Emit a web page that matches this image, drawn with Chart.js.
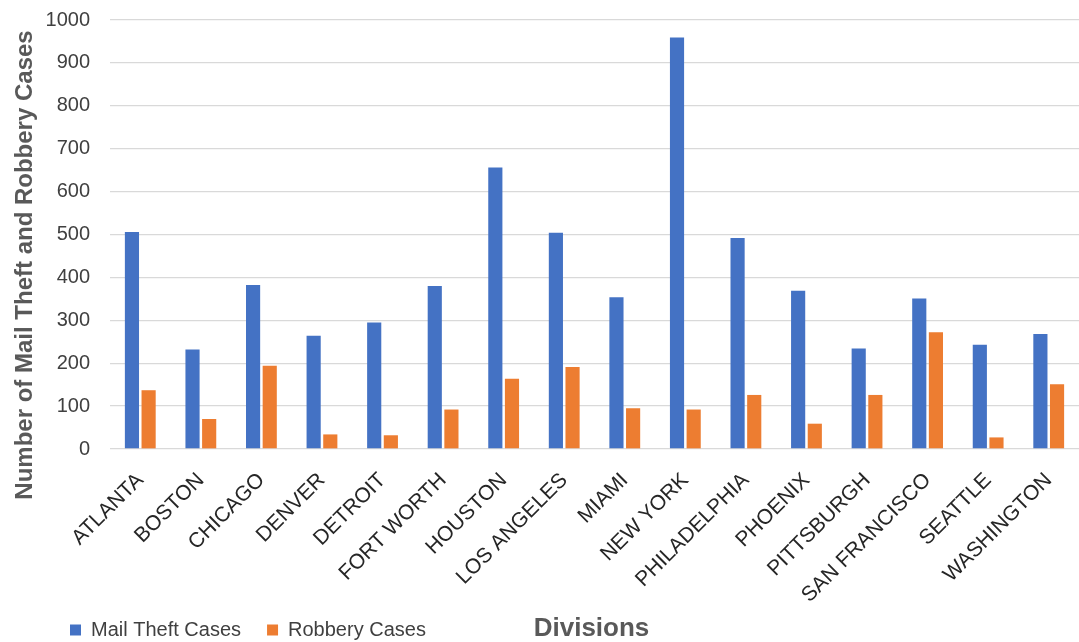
<!DOCTYPE html>
<html>
<head>
<meta charset="utf-8">
<script src="https://cdn.jsdelivr.net/npm/chart.js@4"></script>
<style>
    body { margin: 0; background: #fff; }
    #chart { display: block; }
</style>
</head>
<body>
<canvas id="chart" width="1079" height="642"></canvas>
<script>
// Divisions on the x axis
const divisions = ['ATLANTA', 'BOSTON', 'CHICAGO', 'DENVER', 'DETROIT', 'FORT WORTH', 'HOUSTON',
    'LOS ANGELES', 'MIAMI', 'NEW YORK', 'PHILADELPHIA', 'PHOENIX', 'PITTSBURGH',
    'SAN FRANCISCO', 'SEATTLE', 'WASHINGTON'];

// Case counts
const mailTheftCases = [506, 232, 382, 264, 295, 380, 656, 504, 354, 959, 492, 369, 234, 351, 243, 268];
const robberyCases = [137, 70, 194, 34, 32, 92, 164, 191, 95, 92, 126, 59, 126, 272, 27, 151];

// y axis range
const yMin = 0;
const yMax = 1000;
const yStep = 100;

const yTitle = 'Number of Mail Theft and Robbery Cases';
const xTitle = 'Divisions';

const FONT = '"Liberation Sans", Arial, sans-serif';

// Draws both axis titles (the x title sits on the legend row, like the original)
const axisTitles = {
    id: 'axisTitles',
    afterLayout(chart) {
        // put the legend row where the original has it
        const shift = 594 - chart.legend.top;
        chart.legend.top += shift;
        chart.legend.bottom += shift;
    },
    afterDraw(chart) {
        const ctx = chart.ctx;
        const x = chart.scales.x;
        ctx.save();
        ctx.fillStyle = '#595959';
        ctx.textAlign = 'center';
        ctx.textBaseline = 'middle';

        ctx.font = 'bold 24px ' + FONT;
        ctx.translate(25, 265);
        ctx.rotate(-Math.PI / 2);
        ctx.fillText(yTitle, 0, 0);
        ctx.restore();

        ctx.save();
        ctx.fillStyle = '#595959';
        ctx.textAlign = 'center';
        ctx.textBaseline = 'middle';
        ctx.font = 'bold 26px ' + FONT;
        ctx.fillText(xTitle, (x.left + x.right) / 2 - 3, 629);
        ctx.restore();
    }
};

const ctx = document.getElementById('chart').getContext('2d');
new Chart(ctx, {
    type: 'bar',
    data: {
        labels: divisions,
        datasets: [
            {
                label: 'Mail Theft Cases',
                data: mailTheftCases,
                backgroundColor: '#4472C4',
                categoryPercentage: 0.55,
                barPercentage: 0.85
            },
            {
                label: 'Robbery Cases',
                data: robberyCases,
                backgroundColor: '#ED7D31',
                categoryPercentage: 0.55,
                barPercentage: 0.85
            }
        ]
    },
    options: {
        responsive: false,
        animation: false,
        devicePixelRatio: 1,
        layout: {
            padding: { left: 44, right: 0, top: 20, bottom: -15 }
        },
        plugins: {
            legend: {
                position: 'bottom',
                align: 'start',
                labels: {
                    boxWidth: 11,
                    boxHeight: 11,
                    padding: 26,
                    color: '#404040',
                    font: { family: FONT, size: 20 }
                }
            },
            tooltip: { enabled: false }
        },
        scales: {
            x: {
                grid: { display: false, drawTicks: false },
                border: { display: false },
                ticks: {
                    color: '#262626',
                    font: { family: FONT, size: 21 },
                    minRotation: 45,
                    maxRotation: 45,
                    autoSkip: false,
                    padding: 19
                },
                afterFit(scale) {
                    scale.height = 152;
                    scale.paddingLeft = 0;
                    scale.paddingRight = 0;
                }
            },
            y: {
                min: yMin,
                max: yMax,
                grid: { color: '#d9d9d9', lineWidth: 1.3, drawTicks: false },
                border: { display: false },
                ticks: {
                    stepSize: yStep,
                    color: '#404040',
                    padding: 20,
                    font: { family: FONT, size: 20 },
                    callback: value => String(value)
                },
                afterFit(scale) {
                    scale.width = 66;
                    scale.paddingTop = 0;
                    scale.paddingBottom = 0;
                }
            }
        }
    },
    plugins: [axisTitles]
});
</script>
</body>
</html>
